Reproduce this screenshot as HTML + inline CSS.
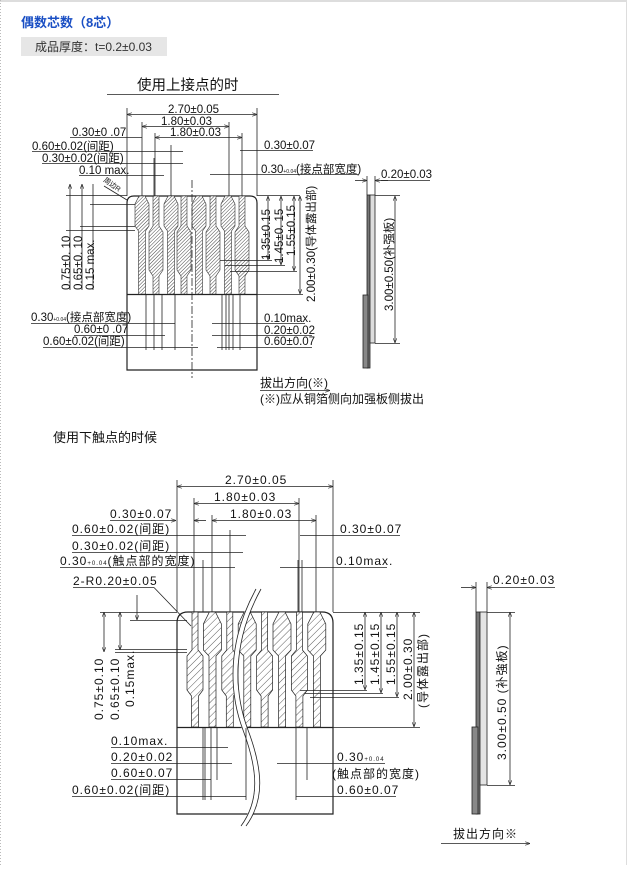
<!DOCTYPE html>
<html><head><meta charset="utf-8"><style>
html,body{margin:0;padding:0;background:#fff;}
body{width:627px;height:865px;overflow:hidden;position:relative;font-family:"Liberation Sans","Noto Sans CJK SC",sans-serif;}
svg text{font-family:"Liberation Sans","Noto Sans CJK SC",sans-serif;fill:#111;}
</style></head><body>
<svg width="627" height="865" viewBox="0 0 627 865" xmlns="http://www.w3.org/2000/svg">
<defs>
<pattern id="h1" width="2.5" height="2.5" patternUnits="userSpaceOnUse" patternTransform="rotate(45)"><rect width="2.5" height="2.5" fill="#fff"/><line x1="0" y1="0" x2="0" y2="2.5" stroke="#444" stroke-width="1"/></pattern>
<pattern id="h2" width="5" height="5" patternUnits="userSpaceOnUse" patternTransform="rotate(45)"><rect width="5" height="5" fill="#fff"/><line x1="0" y1="0" x2="0" y2="5" stroke="#333" stroke-width="0.8"/></pattern>
<marker id="a" viewBox="0 0 8 6" refX="8" refY="3" markerWidth="6" markerHeight="5" orient="auto-start-reverse"><path d="M0,0L8,3L0,6" fill="none" stroke="#222" stroke-width="1"/></marker>
</defs>
<rect x="0" y="0" width="627" height="2" fill="#ddd"/>
<line x1="0.5" y1="0" x2="0.5" y2="865" stroke="#bbb" stroke-dasharray="1,2"/>
<line x1="626.5" y1="0" x2="626.5" y2="865" stroke="#ddd"/>
<text x="21" y="27" font-size="13" font-weight="bold" style="fill:#1a4fc4">偶数芯数（8芯）</text>
<rect x="21" y="37" width="146" height="19" fill="#e6e6e6"/>
<text x="35" y="51" font-size="12" style="fill:#333">成品厚度：t=0.2±0.03</text>

<!-- TOP DIAGRAM -->
<g stroke="#222" stroke-width="0.8" fill="none" font-size="11.5">
<text x="137" y="90" font-size="14.5" stroke="none">使用上接点的时</text>
<line x1="107" y1="94.5" x2="279" y2="94.5"/>
<path d="M127,370 V203 Q127,196 134,196 H250 Q257,196 257,203 V370 Z" stroke-width="1.2"/>
<line x1="127" y1="294.5" x2="257" y2="294.5" stroke-width="1.2"/>
<g fill="url(#h1)" stroke="#333" stroke-width="0.6">
<path d="M139,196 L145,196 L149,204 L149,226 L145.5,231 L145.5,294 L138.5,294 L138.5,231 L135,226 L135,204 Z"/>
<path d="M153,196 L159,196 L159,226 L163,232 L163,270 L159,276 L159,294 L153,294 L153,276 L149,270 L149,232 L153,226 Z"/>
<path d="M168,196 L174,196 L178,204 L178,226 L174.5,231 L174.5,294 L167.5,294 L167.5,231 L164,226 L164,204 Z"/>
<path d="M181,196 L187,196 L187,226 L191,232 L191,270 L187,276 L187,294 L181,294 L181,276 L177,270 L177,232 L181,226 Z"/>
<path d="M196,196 L202,196 L206,204 L206,226 L202.5,231 L202.5,294 L195.5,294 L195.5,231 L192,226 L192,204 Z"/>
<path d="M210,196 L216,196 L216,226 L220,232 L220,270 L216,276 L216,294 L210,294 L210,276 L206,270 L206,232 L210,226 Z"/>
<path d="M225,196 L231,196 L235,204 L235,226 L231.5,231 L231.5,294 L224.5,294 L224.5,231 L221,226 L221,204 Z"/>
<path d="M239,196 L245,196 L245,226 L249,232 L249,270 L245,276 L245,294 L239,294 L239,276 L235,270 L235,232 L239,226 Z"/>
</g>
<line x1="192" y1="180" x2="192" y2="378" stroke-dasharray="8,2,2,2"/>
<line x1="127" y1="108" x2="127" y2="196"/><line x1="257" y1="108" x2="257" y2="196"/>
<line x1="127" y1="114.5" x2="257" y2="114.5" marker-start="url(#a)" marker-end="url(#a)"/>
<line x1="142" y1="122" x2="142" y2="196"/><line x1="229" y1="122" x2="229" y2="196"/>
<line x1="142" y1="126.5" x2="229" y2="126.5" marker-start="url(#a)" marker-end="url(#a)"/>
<line x1="155" y1="133" x2="155" y2="196"/><line x1="242" y1="133" x2="242" y2="196"/>
<line x1="155" y1="137.5" x2="242" y2="137.5" marker-start="url(#a)" marker-end="url(#a)"/>
<line x1="70" y1="137.5" x2="142" y2="137.5"/>
<line x1="32" y1="151.5" x2="183" y2="151.5"/>
<line x1="42" y1="163.5" x2="183" y2="163.5"/>
<line x1="79" y1="175.5" x2="164" y2="175.5"/>
<line x1="171" y1="145" x2="171" y2="196"/><line x1="154" y1="158" x2="154" y2="196"/>
<line x1="240" y1="150.5" x2="313" y2="150.5"/>
<line x1="210" y1="174.5" x2="358" y2="174.5"/>
<text x="168" y="113" stroke="none">2.70±0.05</text>
<text x="161" y="125" stroke="none">1.80±0.03</text>
<text x="170" y="136" stroke="none">1.80±0.03</text>
<text x="72" y="136" stroke="none">0.30±0 .07</text>
<text x="32" y="150" stroke="none">0.60±0.02(间距)</text>
<text x="42" y="162" stroke="none">0.30±0.02(间距)</text>
<text x="79" y="174" stroke="none">0.10 max.</text>
<text x="264" y="149" stroke="none">0.30±0.07</text>
<text x="261" y="173" stroke="none">0.30<tspan font-size="5">+0.04</tspan>(接点部宽度)</text>
<text x="0" y="0" font-size="7" stroke="none" transform="translate(103,181) rotate(35)">周边R</text>
<line x1="104" y1="186" x2="127" y2="200"/>
<line x1="66" y1="195.5" x2="127" y2="195.5"/><line x1="66" y1="230.5" x2="135" y2="230.5"/><line x1="80" y1="226.5" x2="135" y2="226.5"/><line x1="90" y1="204.5" x2="135" y2="204.5"/>
<line x1="70" y1="184" x2="70" y2="290" marker-start="url(#a)"/><line x1="82" y1="184" x2="82" y2="290" marker-start="url(#a)"/><line x1="93" y1="184" x2="93" y2="290"/>
<text stroke="none" transform="translate(70,290) rotate(-90)">0.75±0. 10</text>
<text stroke="none" transform="translate(82,290) rotate(-90)">0.65±0. 10</text>
<text stroke="none" transform="translate(94,290) rotate(-90)">0.15 max.</text>
<line x1="257" y1="195.5" x2="300" y2="195.5"/>
<line x1="220" y1="260.5" x2="272" y2="260.5"/><line x1="225" y1="265.5" x2="285" y2="265.5"/><line x1="230" y1="271.5" x2="297" y2="271.5"/>
<line x1="257" y1="294.5" x2="303" y2="294.5"/>
<line x1="268" y1="196" x2="268" y2="260" marker-start="url(#a)" marker-end="url(#a)"/>
<line x1="281" y1="196" x2="281" y2="265" marker-start="url(#a)" marker-end="url(#a)"/>
<line x1="294" y1="196" x2="294" y2="271" marker-start="url(#a)" marker-end="url(#a)"/>
<line x1="300" y1="196" x2="300" y2="294" marker-start="url(#a)" marker-end="url(#a)"/>
<text stroke="none" transform="translate(270,260) rotate(-90)">1.35±0.15</text>
<text stroke="none" transform="translate(283,263) rotate(-90)">1.45±0. 15</text>
<text stroke="none" transform="translate(295,256) rotate(-90)">1.55±0.15</text>
<text stroke="none" transform="translate(315,302) rotate(-90)">2.00±0.30(导体露出部)</text>
<line x1="146" y1="295" x2="146" y2="350"/><line x1="154" y1="295" x2="154" y2="350"/><line x1="162" y1="295" x2="162" y2="350"/><line x1="175" y1="295" x2="175" y2="350"/>
<line x1="222" y1="295" x2="222" y2="350"/><line x1="226" y1="295" x2="226" y2="350"/><line x1="229" y1="295" x2="229" y2="350"/><line x1="233" y1="295" x2="233" y2="350"/><line x1="240" y1="295" x2="240" y2="350"/>
<line x1="31" y1="323.5" x2="175" y2="323.5"/>
<line x1="74" y1="335.5" x2="165" y2="335.5"/>
<line x1="43" y1="347.5" x2="198" y2="347.5"/>
<line x1="212" y1="323.5" x2="305" y2="323.5"/>
<line x1="212" y1="335.5" x2="312" y2="335.5"/>
<line x1="217" y1="347.5" x2="312" y2="347.5"/>
<text x="31" y="321" stroke="none">0.30<tspan font-size="5">+0.04</tspan>(接点部宽度)</text>
<text x="74" y="333" stroke="none">0.60±0 .07</text>
<text x="43" y="345" stroke="none">0.60±0.02(间距)</text>
<text x="264" y="322" stroke="none">0.10max.</text>
<text x="264" y="334" stroke="none">0.20±0.02</text>
<text x="264" y="345" stroke="none">0.60±0.07</text>
<text x="260" y="387" font-size="12" stroke="none">拔出方向(※)</text>
<line x1="260" y1="390.5" x2="330" y2="390.5" marker-end="url(#a)"/>
<text x="260" y="403" font-size="12" stroke="none">(※)应从铜箔侧向加强板侧拔出</text>
<rect x="367" y="195" width="3" height="173" fill="#777"/>
<rect x="370" y="195" width="5" height="148" fill="#ddd"/>
<rect x="363" y="295" width="5" height="73" fill="#888"/>
<line x1="367" y1="176" x2="367" y2="195"/><line x1="375" y1="176" x2="375" y2="195"/>
<line x1="355" y1="180.5" x2="367" y2="180.5" marker-end="url(#a)"/><line x1="388" y1="180.5" x2="375" y2="180.5" marker-end="url(#a)"/><line x1="381" y1="180.5" x2="430" y2="180.5"/>
<text x="381" y="178" stroke="none">0.20±0.03</text>
<line x1="375" y1="195.5" x2="400" y2="195.5"/><line x1="375" y1="343.5" x2="400" y2="343.5"/>
<line x1="395" y1="196" x2="395" y2="343" marker-start="url(#a)" marker-end="url(#a)"/>
<text stroke="none" transform="translate(393,311) rotate(-90)">3.00±0.50(补强板)</text>
</g>

<!-- BOTTOM DIAGRAM -->
<text x="53" y="442" font-size="13">使用下触点的时候</text>
<g stroke="#222" stroke-width="0.8" fill="none" font-size="12" letter-spacing="1">
<path d="M177,814 V623 Q177,612 188,612 H322 Q333,612 333,623 V814 Z" stroke-width="1.2"/>
<line x1="177" y1="727.5" x2="333" y2="727.5" stroke-width="1.2"/>
<g fill="url(#h2)" stroke="#222" stroke-width="0.7">
<path d="M192,612 L198,612 L198,650 L203,656 L203,690 L198.5,696 L198.5,727 L191.5,727 L191.5,696 L187,690 L187,656 L192,650 Z"/>
<path d="M209.4,612 L215.4,612 L221.4,624 L221.4,650 L216,656 L216,727 L209,727 L209,656 L203.4,650 L203.4,624 Z"/>
<path d="M226.8,612 L232.8,612 L232.8,650 L237.8,656 L237.8,690 L233.3,696 L233.3,727 L226.3,727 L226.3,696 L221.8,690 L221.8,656 L226.8,650 Z"/>
<path d="M244.2,612 L250.2,612 L256.2,624 L256.2,650 L250.8,656 L250.8,727 L243.8,727 L243.8,656 L238.2,650 L238.2,624 Z"/>
<path d="M261.6,612 L267.6,612 L267.6,650 L272.6,656 L272.6,690 L268.1,696 L268.1,727 L261.1,727 L261.1,696 L256.6,690 L256.6,656 L261.6,650 Z"/>
<path d="M279,612 L285,612 L291,624 L291,650 L285.6,656 L285.6,727 L278.6,727 L278.6,656 L273,650 L273,624 Z"/>
<path d="M296.4,612 L302.4,612 L302.4,650 L307.4,656 L307.4,690 L302.9,696 L302.9,727 L295.9,727 L295.9,696 L291.4,690 L291.4,656 L296.4,650 Z"/>
<path d="M313.8,612 L319.8,612 L325.8,624 L325.8,650 L320.4,656 L320.4,727 L313.4,727 L313.4,656 L307.8,650 L307.8,624 Z"/>
</g>
<path d="M258,589 C230,640 230,690 245,730 S262,800 243,826" stroke="#fff" stroke-width="5"/>
<path d="M256,589 C228,640 228,690 243,730 S260,800 241,826"/>
<path d="M261,589 C233,640 233,690 248,730 S265,800 246,826"/>
<line x1="177" y1="480" x2="177" y2="612"/><line x1="333" y1="480" x2="333" y2="612"/>
<line x1="177" y1="486.5" x2="333" y2="486.5" marker-start="url(#a)" marker-end="url(#a)"/>
<line x1="194" y1="498" x2="194" y2="612"/><line x1="299" y1="498" x2="299" y2="612"/>
<line x1="194" y1="503.5" x2="299" y2="503.5" marker-start="url(#a)" marker-end="url(#a)"/>
<line x1="212" y1="515" x2="212" y2="612"/><line x1="316" y1="515" x2="316" y2="612"/>
<line x1="212" y1="520.5" x2="316" y2="520.5" marker-start="url(#a)" marker-end="url(#a)"/>
<line x1="110" y1="520.5" x2="176" y2="520.5" marker-end="url(#a)"/><line x1="206" y1="520.5" x2="194" y2="520.5" marker-end="url(#a)"/>
<line x1="72" y1="535.5" x2="246" y2="535.5"/>
<line x1="72" y1="552.5" x2="243" y2="552.5"/>
<line x1="60" y1="567.5" x2="235" y2="567.5"/>
<line x1="203" y1="560" x2="203" y2="612"/><line x1="230" y1="530" x2="230" y2="612"/>
<line x1="300" y1="535.5" x2="400" y2="535.5"/>
<line x1="280" y1="567.5" x2="387" y2="567.5"/>
<line x1="298" y1="560" x2="298" y2="612"/><line x1="302" y1="560" x2="302" y2="612"/>
<text x="225" y="484" stroke="none">2.70±0.05</text>
<text x="214" y="501" stroke="none">1.80±0.03</text>
<text x="230" y="518" stroke="none">1.80±0.03</text>
<text x="110" y="518" stroke="none">0.30±0.07</text>
<text x="72" y="533" stroke="none">0.60±0.02(间距)</text>
<text x="72" y="550" stroke="none">0.30±0.02(间距)</text>
<text x="60" y="565" stroke="none">0.30<tspan font-size="6">+0.04</tspan>(触点部的宽度)</text>
<text x="73" y="585" stroke="none">2-R0.20±0.05</text>
<line x1="73" y1="587.5" x2="154" y2="587.5"/><line x1="154" y1="587.5" x2="191" y2="626"/>
<text x="340" y="533" stroke="none">0.30±0.07</text>
<text x="336" y="565" stroke="none">0.10max.</text>
<line x1="100" y1="612.5" x2="177" y2="612.5"/><line x1="115" y1="652.5" x2="187" y2="652.5"/><line x1="115" y1="649.5" x2="187" y2="649.5"/><line x1="130" y1="620.5" x2="187" y2="620.5"/>
<line x1="104" y1="612" x2="104" y2="652" marker-start="url(#a)" marker-end="url(#a)"/>
<line x1="120" y1="612" x2="120" y2="650" marker-start="url(#a)" marker-end="url(#a)"/>
<line x1="137" y1="595" x2="137" y2="620" marker-end="url(#a)"/>
<text stroke="none" transform="translate(103,720) rotate(-90)">0.75±0.10</text>
<text stroke="none" transform="translate(119,720) rotate(-90)">0.65±0.10</text>
<text stroke="none" transform="translate(134,707) rotate(-90)">0.15max.</text>
<line x1="333" y1="612.5" x2="420" y2="612.5"/>
<line x1="300" y1="690.5" x2="367" y2="690.5"/><line x1="305" y1="693.5" x2="383" y2="693.5"/><line x1="310" y1="697.5" x2="399" y2="697.5"/>
<line x1="333" y1="727.5" x2="420" y2="727.5"/>
<line x1="365" y1="612" x2="365" y2="690" marker-start="url(#a)" marker-end="url(#a)"/>
<line x1="381" y1="612" x2="381" y2="693" marker-start="url(#a)" marker-end="url(#a)"/>
<line x1="397" y1="612" x2="397" y2="697" marker-start="url(#a)" marker-end="url(#a)"/>
<line x1="414" y1="612" x2="414" y2="727" marker-start="url(#a)" marker-end="url(#a)"/>
<text stroke="none" transform="translate(363,685) rotate(-90)">1.35±0.15</text>
<text stroke="none" transform="translate(379,685) rotate(-90)">1.45±0.15</text>
<text stroke="none" transform="translate(395,685) rotate(-90)">1.55±0.15</text>
<text stroke="none" transform="translate(412,700) rotate(-90)">2.00±0.30</text>
<text stroke="none" transform="translate(427,708) rotate(-90)">(导体露出部)</text>
<line x1="203" y1="728" x2="203" y2="800"/><line x1="205" y1="728" x2="205" y2="800"/><line x1="211" y1="728" x2="211" y2="800"/><line x1="217" y1="728" x2="217" y2="780"/><line x1="246" y1="728" x2="246" y2="800"/>
<line x1="296" y1="728" x2="296" y2="800"/><line x1="307" y1="728" x2="307" y2="780"/><line x1="333" y1="728" x2="333" y2="800"/>
<line x1="111" y1="747.5" x2="228" y2="747.5"/>
<line x1="111" y1="763.5" x2="232" y2="763.5"/>
<line x1="111" y1="779.5" x2="211" y2="779.5"/>
<line x1="72" y1="796.5" x2="246" y2="796.5"/>
<line x1="277" y1="763.5" x2="385" y2="763.5"/>
<line x1="296" y1="796.5" x2="396" y2="796.5"/>
<text x="111" y="745" stroke="none">0.10max.</text>
<text x="111" y="761" stroke="none">0.20±0.02</text>
<text x="111" y="777" stroke="none">0.60±0.07</text>
<text x="72" y="794" stroke="none">0.60±0.02(间距)</text>
<text x="337" y="761" stroke="none">0.30<tspan font-size="6">+0.04</tspan></text>
<text x="332" y="778" stroke="none">(触点部的宽度)</text>
<text x="337" y="794" stroke="none">0.60±0.07</text>
<rect x="476" y="612" width="4" height="202" fill="#777"/>
<rect x="480" y="612" width="7" height="173" fill="#e4e4e4"/>
<rect x="472" y="727" width="6" height="87" fill="#888"/>
<line x1="476" y1="582" x2="476" y2="612"/><line x1="487" y1="582" x2="487" y2="612"/>
<line x1="461" y1="587.5" x2="476" y2="587.5" marker-end="url(#a)"/><line x1="555" y1="587.5" x2="487" y2="587.5" marker-end="url(#a)"/>
<text x="493" y="584" stroke="none">0.20±0.03</text>
<line x1="487" y1="612.5" x2="515" y2="612.5"/><line x1="487" y1="785.5" x2="515" y2="785.5"/>
<line x1="510" y1="612" x2="510" y2="785" marker-start="url(#a)" marker-end="url(#a)"/>
<text stroke="none" transform="translate(506,760) rotate(-90)">3.00±0.50 (补強板)</text>
<text x="453" y="838" stroke="none">拔出方向※</text>
<line x1="441" y1="843.5" x2="530" y2="843.5" marker-end="url(#a)"/>
</g>
</svg>
</body></html>
